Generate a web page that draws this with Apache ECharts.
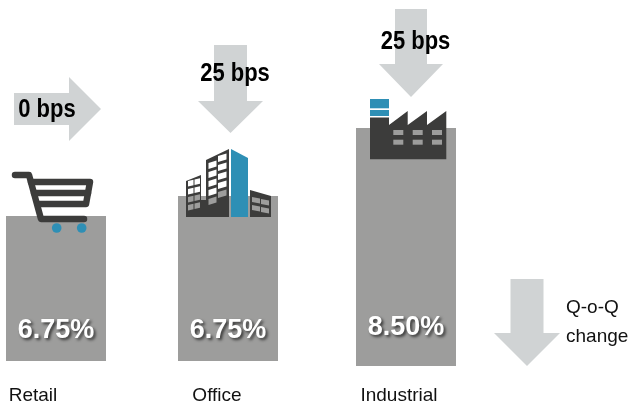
<!DOCTYPE html>
<html>
<head>
<meta charset="utf-8">
<style>html,body{margin:0;padding:0;background:#fff}#chart{width:632px;height:407px}</style>
<script src="https://cdn.jsdelivr.net/npm/echarts@6/dist/echarts.min.js"></script>
</head>
<body>
<div id="chart"></div>
<script>
// Cap rates by property sector with their quarter-on-quarter change
const categories = ['Retail', 'Office', 'Industrial'];
const capRates = [6.75, 6.75, 8.5];
const bpsChange = [0, 25, 25];
const legendLines = ['Q-o-Q', 'change'];

// Each sector has its own panel and its own scale
const panels = [
  { left: 6, width: 100, top: 216, bottom: 361, labelMargin: 25, labelShift: 46, valueLift: 17 },
  { left: 178, width: 100, top: 196, bottom: 361, labelMargin: 25, labelShift: 22, valueLift: 17 },
  { left: 356, width: 100, top: 128, bottom: 366, labelMargin: 20, labelShift: 14, valueLift: 25 }
];

const BAR = '#9d9d9c', ARROW = '#d0d3d4', DARK = '#3c3c3b', BLUE = '#2e8fb5';
const FONT = '"Liberation Sans", Arial, sans-serif';

function poly(points, fill, z) {
  return { type: 'polygon', z: z || 10, shape: { points }, style: { fill } };
}
function rect(x, y, w, h, fill) {
  return { type: 'rect', z: 11, shape: { x, y, width: w, height: h }, style: { fill } };
}
function downArrow(cx, top, neck, tip, shaftHalf, headHalf) {
  return poly([[cx - shaftHalf, top], [cx + shaftHalf, top], [cx + shaftHalf, neck], [cx + headHalf, neck],
    [cx, tip], [cx - headHalf, neck], [cx - shaftHalf, neck]], ARROW, 5);
}
function rightArrow(cy, left, neck, tip, shaftHalf, headHalf) {
  return poly([[left, cy - shaftHalf], [left, cy + shaftHalf], [neck, cy + shaftHalf], [neck, cy + headHalf],
    [tip, cy], [neck, cy - headHalf], [neck, cy - shaftHalf]], ARROW, 5);
}
function bpsText(i, cx, cy) {
  return {
    type: 'text', z: 12, x: cx, y: cy, scaleY: 1.14,
    style: { text: bpsChange[i] + ' bps', x: 0, y: 0, align: 'center', verticalAlign: 'middle',
      font: 'bold 22px ' + FONT, fill: '#000' }
  };
}
// Slanted window pane for the office icon
function pane(x, y, w, h, slope, fill) {
  return poly([[x, y], [x + w, y + slope], [x + w, y + slope + h], [x, y + h]], fill, 12);
}

function cartIcon() {
  const stroke = { stroke: DARK, lineWidth: 6.5, lineCap: 'round', lineJoin: 'round', fill: null };
  const line = pts => ({ type: 'polyline', z: 11, shape: { points: pts }, style: stroke });
  return [
    line([[15, 175], [29, 175], [41, 219], [84, 219]]),
    line([[31, 182], [90, 182], [86, 204], [39, 204]]),
    line([[34, 193], [88, 193]]),
    { type: 'circle', z: 11, shape: { cx: 56.7, cy: 228, r: 4.8 }, style: { fill: BLUE } },
    { type: 'circle', z: 11, shape: { cx: 81.7, cy: 228, r: 4.8 }, style: { fill: BLUE } }
  ];
}

function officeIcon() {
  const els = [
    poly([[186, 181], [201, 175], [201, 200], [206, 200], [206, 160], [229, 149], [229, 217], [186, 217]], DARK, 11),
    poly([[231, 149], [248, 158], [248, 217], [231, 217]], BLUE, 11),
    poly([[250, 190], [271, 196], [271, 217], [250, 217]], DARK, 11)
  ];
  // tower panes, two columns climbing to the right
  [163, 172, 181, 190, 199].forEach((y, r) => {
    const fill = r > 3 ? BAR : '#fff';
    els.push(pane(208.5, y, 8, 6, -2.5, fill));
    els.push(pane(218, y - 7, 8.5, 6, -2.5, r > 3 ? BAR : '#fff'));
  });
  // low block on the left
  [181, 189, 197, 205].forEach((y, r) => {
    const fill = r > 1 ? BAR : '#fff';
    els.push(pane(188, y, 5.5, 5.5, -1.2, fill));
    els.push(pane(194.5, y - 1.5, 5.5, 5.5, -1.2, fill));
  });
  // low block on the right
  [197, 205].forEach(y => {
    els.push(pane(252, y, 8, 5, 1.5, BAR));
    els.push(pane(261, y + 2, 8, 5, 1.5, BAR));
  });
  return els;
}

function factoryIcon() {
  const els = [
    rect(370, 99, 19, 9.3, BLUE),
    rect(370, 110, 19, 6, BLUE),
    poly([[370, 117.5], [389, 117.5], [389, 125], [407.7, 111], [407.7, 125], [427, 111], [427, 125],
      [446.3, 111], [446.3, 159.3], [370, 159.3]], DARK, 11)
  ];
  [393.3, 412.7, 432].forEach(x => {
    els.push(rect(x, 130, 10, 5, BAR));
    els.push(rect(x, 139.7, 10, 5, BAR));
  });
  return els;
}

const graphicElements = [
  rightArrow(109, 14, 69, 101, 16, 32),
  downArrow(230.5, 45, 101, 133, 16.5, 32.5),
  downArrow(411, 9, 64, 97, 16, 32),
  downArrow(527, 279, 333, 366, 16.5, 33),
  bpsText(0, 47, 110.5),
  bpsText(1, 235, 74),
  bpsText(2, 415.5, 42),
  ...cartIcon(),
  ...officeIcon(),
  ...factoryIcon(),
  { type: 'text', z: 12, x: 566, y: 308, style: { text: legendLines[0], align: 'left', verticalAlign: 'middle', font: '19px ' + FONT, fill: '#111' } },
  { type: 'text', z: 12, x: 566, y: 337, style: { text: legendLines[1], align: 'left', verticalAlign: 'middle', font: '19px ' + FONT, fill: '#111' } }
];

const option = {
  animation: false,
  backgroundColor: '#fff',
  grid: panels.map(p => ({ left: p.left, width: p.width, top: p.top, height: p.bottom - p.top })),
  xAxis: panels.map((p, i) => ({
    gridIndex: i,
    type: 'category',
    data: [categories[i]],
    axisLine: { show: false },
    axisTick: { show: false },
    axisLabel: { margin: p.labelMargin, fontFamily: FONT, fontSize: 19, color: '#111', padding: [0, p.labelShift, 0, 0] }
  })),
  yAxis: panels.map((p, i) => ({ gridIndex: i, type: 'value', min: 0, max: capRates[i], show: false })),
  series: panels.map((p, i) => ({
    type: 'bar',
    xAxisIndex: i,
    yAxisIndex: i,
    data: [capRates[i]],
    barWidth: '100%',
    itemStyle: { color: BAR },
    label: {
      show: true,
      position: 'insideBottom',
      distance: p.valueLift,
      formatter: ({ value }) => value.toFixed(2) + '%',
      fontFamily: FONT,
      fontWeight: 'bold',
      fontSize: 27,
      color: '#fff',
      textShadowColor: 'rgba(0,0,0,0.65)',
      textShadowBlur: 3,
      textShadowOffsetX: 2,
      textShadowOffsetY: 2
    }
  })),
  graphic: { elements: graphicElements }
};

echarts.init(document.getElementById('chart'), null, { renderer: 'canvas' }).setOption(option);
</script>
</body>
</html>
